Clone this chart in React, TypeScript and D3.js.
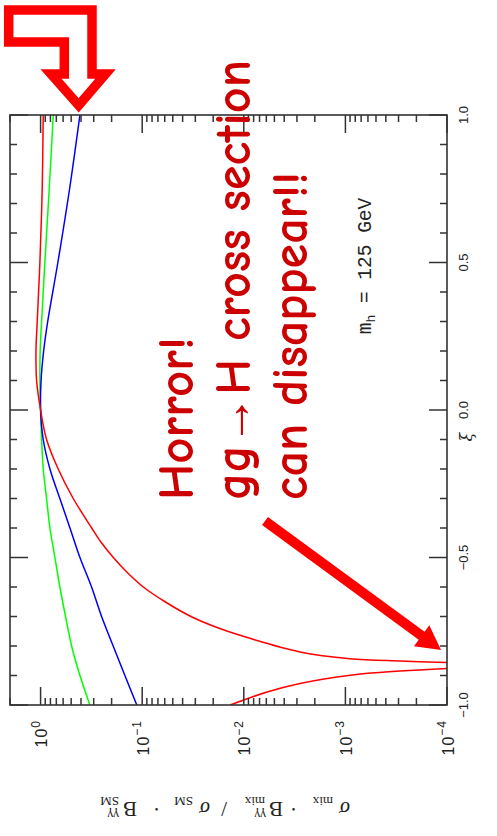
import React from 'react';
import * as d3 from 'd3';

// ---- data ----
const XI_GRID = [1.0, 0.75, 0.5, 0.3, 0.2, 0.1, 0.0, -0.1, -0.2, -0.3, -0.4, -0.5, -0.6, -0.7, -0.8, -0.9, -1.0];
const GREEN_VALUES = [0.75, 0.822, 0.908, 0.977, 1.01, 1.016, 1.0, 0.977, 0.942, 0.873, 0.809, 0.723, 0.646, 0.568, 0.495, 0.41, 0.327];
const BLUE_VALUES = [0.41, 0.518, 0.676, 0.851, 0.933, 0.989, 1.0, 0.942, 0.809, 0.646, 0.514, 0.41, 0.315, 0.251, 0.193, 0.148, 0.113];
const RED_UPPER_XI = [1.0, 0.75, 0.5, 0.3, 0.2, 0.1, 0.0, -0.1, -0.2, -0.3, -0.4, -0.45, -0.5, -0.55, -0.6, -0.65, -0.7, -0.74, -0.774, -0.82, -0.843, -0.851, -0.856];
const RED_UPPER_VALUES = [0.942, 0.964, 1.016, 1.079, 1.11, 1.094, 1.0, 0.873, 0.671, 0.477, 0.314, 0.2515, 0.1924, 0.141, 0.0975, 0.0596, 0.0331, 0.0175, 0.0087, 0.0028, 0.0009, 0.00029, 0.0001];
const RED_LOWER_XI = [-0.876, -0.885, -0.899, -0.927, -0.956, -1.0];
const RED_LOWER_VALUES = [0.0001, 0.00029, 0.00089, 0.0028, 0.0059, 0.0136];

const LOG_DECADES = [0, -1, -2, -3, -4];
const XI_TICK_VALUES = [1.0, 0.5, 0.0, -0.5, -1.0];
const XI_TICK_LABELS = ['1.0', '0.5', '0.0', '\u22120.5', '\u22121.0'];
const COMIC_LINES = ['Horror!', 'gg\u2192H cross section', 'can disappear!!'];
const MASS_LABEL = ['m', 'h', ' = 125 GeV'];

// ---- layout ----
const W = 497;
const H = 836;
const FRAME = { left: 10, right: 447, top: 115, bottom: 705 };
const MAJOR = 18;
const MINOR = 7;
const AXIS_COLOR = '#333';

export default function App() {
  const x = d3.scaleLog().domain([2, 1e-4]).range([FRAME.left, FRAME.right]);
  const y = d3.scaleLinear().domain([-1, 1]).range([FRAME.bottom, FRAME.top]);

  const line = d3
    .line<[number, number]>()
    .x((d) => x(d[1]))
    .y((d) => y(d[0]))
    .curve(d3.curveCatmullRom.alpha(0.5));

  const series = [
    { color: '#00ff00', pts: XI_GRID.map((xi, i) => [xi, GREEN_VALUES[i]] as [number, number]) },
    { color: '#0000ff', pts: XI_GRID.map((xi, i) => [xi, BLUE_VALUES[i]] as [number, number]) },
    { color: '#ff0000', pts: RED_UPPER_XI.map((xi, i) => [xi, RED_UPPER_VALUES[i]] as [number, number]) },
    { color: '#ff0000', pts: RED_LOWER_XI.map((xi, i) => [xi, RED_LOWER_VALUES[i]] as [number, number]) },
  ];

  const logTicks = x.ticks().filter((t) => t <= 2 && t >= 1e-4);
  const isMajorLog = (t: number) => Math.abs(Math.log10(t) - Math.round(Math.log10(t))) < 1e-9;
  const xiTicks = d3.range(-10, 11).map((i) => i / 10);
  const isMajorXi = (t: number) => Math.abs(t * 2 - Math.round(t * 2)) < 1e-9;

  // big solid arrow
  const S = [265, 521];
  const T = [441, 650];
  const len = Math.hypot(T[0] - S[0], T[1] - S[1]);
  const dx = (T[0] - S[0]) / len;
  const dy = (T[1] - S[1]) / len;
  const nx = -dy;
  const ny = dx;
  const hw = 5;
  const hh = 13;
  const hl = 24;
  const B = [T[0] - hl * dx, T[1] - hl * dy];
  const arrowPts = [
    [S[0] + nx * hw, S[1] + ny * hw],
    [B[0] + nx * hw, B[1] + ny * hw],
    [B[0] + nx * hh, B[1] + ny * hh],
    T,
    [B[0] - nx * hh, B[1] - ny * hh],
    [B[0] - nx * hw, B[1] - ny * hw],
    [S[0] - nx * hw, S[1] - ny * hw],
  ]
    .map((p) => p.join(','))
    .join(' ');

  const hollowArrow = [
    [8.7, 10], [92, 10], [92, 74], [105.5, 74], [78.7, 105.3], [51, 74], [64.3, 74], [64.3, 42], [8.7, 42],
  ]
    .map((p) => p.join(','))
    .join(' ');

  const comicBaselines = [193, 250, 307];
  const comicLengths = [163, 440, 328];

  // bottom title pieces in rotated (180°) local coordinates
  const titlePieces = [
    { u: -123, t: '\u03c3', k: 'main' },
    { u: -106, t: 'mix', k: 'sub' },
    { u: -70, t: '\u00b7', k: 'main' },
    { u: -56, t: 'B', k: 'main' },
    { u: -39, t: '\u03b3\u03b3', k: 'sup' },
    { u: -38, t: 'mix', k: 'sub' },
    { u: 0, t: '/', k: 'main' },
    { u: 17, t: '\u03c3', k: 'main' },
    { u: 34, t: 'SM', k: 'sub' },
    { u: 67, t: '\u00b7', k: 'main' },
    { u: 90, t: 'B', k: 'main' },
    { u: 108, t: '\u03b3\u03b3', k: 'sup' },
    { u: 108, t: 'SM', k: 'sub' },
  ];

  return (
    <svg width={W} height={H} style={{ position: 'absolute', left: 0, top: 0, background: '#fff' }}>
      <rect x={0} y={0} width={W} height={H} fill="#fff" />
      <defs>
        <clipPath id="plotclip">
          <rect x={FRAME.left} y={FRAME.top} width={FRAME.right - FRAME.left} height={FRAME.bottom - FRAME.top} />
        </clipPath>
      </defs>

      {/* curves */}
      <g clipPath="url(#plotclip)" fill="none">
        {series.map((s, i) => (
          <path key={i} d={line(s.pts) || ''} stroke={s.color} strokeWidth={1.5} />
        ))}
      </g>

      {/* frame */}
      <rect
        x={FRAME.left}
        y={FRAME.top}
        width={FRAME.right - FRAME.left}
        height={FRAME.bottom - FRAME.top}
        fill="none"
        stroke={AXIS_COLOR}
        strokeWidth={1.6}
      />
      <g stroke={AXIS_COLOR} strokeWidth={1.5}>
        {logTicks.map((t, i) => {
          const l = isMajorLog(t) ? MAJOR : MINOR;
          const px = x(t);
          return (
            <g key={'lt' + i}>
              <line x1={px} x2={px} y1={FRAME.bottom} y2={FRAME.bottom - l} />
              <line x1={px} x2={px} y1={FRAME.top} y2={FRAME.top + l} />
            </g>
          );
        })}
        {xiTicks.map((t, i) => {
          const l = isMajorXi(t) ? MAJOR : MINOR;
          const py = y(t);
          return (
            <g key={'xt' + i}>
              <line x1={FRAME.left} x2={FRAME.left + l} y1={py} y2={py} />
              <line x1={FRAME.right} x2={FRAME.right - l} y1={py} y2={py} />
            </g>
          );
        })}
      </g>

      {/* log axis labels (rotated) */}
      <g fontFamily="'Liberation Sans', Arial, sans-serif" fill="#222">
        {LOG_DECADES.map((e) => {
          const px = x(Math.pow(10, e));
          return (
            <text
              key={'ll' + e}
              transform={`translate(${px + 1},720) rotate(-90)`}
              textAnchor="end"
              dominantBaseline="central"
              fontSize={16}
              letterSpacing={1}
            >
              10
              <tspan fontSize={12} dy={-6}>
                {e === 0 ? '0' : '\u2212' + Math.abs(e)}
              </tspan>
            </text>
          );
        })}
        {XI_TICK_VALUES.map((v, i) => (
          <text
            key={'xl' + i}
            transform={`translate(463,${y(v)}) rotate(-90)`}
            textAnchor="middle"
            dominantBaseline="central"
            fontSize={13}
          >
            {XI_TICK_LABELS[i]}
          </text>
        ))}
      </g>
      <text
        transform="translate(466,437) rotate(-90)"
        textAnchor="middle"
        dominantBaseline="central"
        fontSize={16}
        fontStyle="italic"
        fontFamily="'DejaVu Serif', serif"
        fill="#222"
      >
        ξ
      </text>

      {/* m_h label */}
      <text
        transform="translate(366,266) rotate(-90)"
        textAnchor="middle"
        dominantBaseline="central"
        fontFamily="'Liberation Mono', 'Courier New', monospace"
        fontSize={19.5}
        fill="#222"
      >
        {MASS_LABEL[0]}
        <tspan fontSize={13} dy={5}>
          {MASS_LABEL[1]}
        </tspan>
        <tspan dy={-5}>{MASS_LABEL[2]}</tspan>
      </text>

      {/* bottom axis title, upside down */}
      <g transform="translate(227,807) rotate(180)" fontFamily="'Liberation Serif', 'Times New Roman', serif" fill="#222">
        {titlePieces.map((p, i) => (
          <text
            key={'tp' + i}
            x={p.u}
            y={p.k === 'main' ? 5 : p.k === 'sub' ? 10 : -4}
            fontSize={p.k === 'main' ? 21 : 13}
            fontStyle={p.t === '\u03c3' ? 'italic' : 'normal'}
          >
            {p.t}
          </text>
        ))}
      </g>

      {/* annotations */}
      <polygon points={hollowArrow} fill="#fff" stroke="#ff0000" strokeWidth={9.5} strokeLinejoin="miter" strokeMiterlimit={6} />
      <polygon points={arrowPts} fill="#ff0000" />
      <g fontFamily="'Comic Sans MS', 'Comic Neue', 'Open Sans', sans-serif" fill="#cc0000" fontSize={50} fontWeight={600}>
        {COMIC_LINES.map((t, i) => (
          <text
            key={'cl' + i}
            transform={`translate(${comicBaselines[i]},500) rotate(-90)`}
            textAnchor="start"
            textLength={comicLengths[i]}
            lengthAdjust="spacingAndGlyphs"
          >
            {t}
          </text>
        ))}
      </g>
    </svg>
  );
}
